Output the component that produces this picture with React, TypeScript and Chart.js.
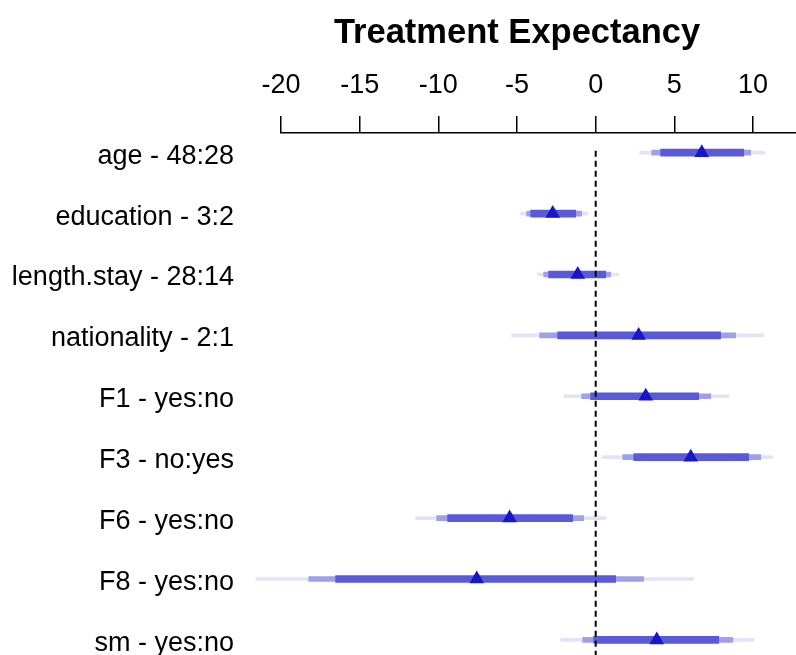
import React, { useEffect, useRef } from "react";
import { Chart, registerables } from "chart.js";

Chart.register(...registerables);

const categories = [
  "age - 48:28",
  "education - 3:2",
  "length.stay - 28:14",
  "nationality - 2:1",
  "F1 - yes:no",
  "F3 - no:yes",
  "F6 - yes:no",
  "F8 - yes:no",
  "sm - yes:no",
];
const estimate = [6.74, -2.73, -1.14, 2.73, 3.18, 6.04, -5.47, -7.56, 3.88];
const innerLow = [4.13, -4.13, -2.99, -2.42, -0.32, 2.42, -9.41, -16.53, -0.13];
const innerHigh = [9.41, -1.27, 0.64, 7.94, 6.55, 9.72, -1.46, 1.27, 7.82];
const midLow = [3.56, -4.39, -3.31, -3.56, -0.89, 1.72, -10.11, -18.24, -0.83];
const midHigh = [9.85, -0.89, 0.95, 8.9, 7.31, 10.49, -0.76, 3.05, 8.71];
const outerLow = [2.8, -4.77, -3.69, -5.34, -2.03, 0.44, -11.44, -21.6, -2.22];
const outerHigh = [10.74, -0.51, 1.46, 10.68, 8.45, 11.25, 0.64, 6.23, 10.04];
const xTicks = [-20, -15, -10, -5, 0, 5, 10];
const xMin = -20;
const xMax = 12.73;
const yMin = 0.677;
const yMax = 9.248;
const refValue = 0;
const titleText = "Treatment Expectancy";

const FONT = '"Liberation Sans", Arial, sans-serif';

const titlePlugin = {
  id: "customTitle",
  afterDraw(chart: any) {
    const ctx = chart.ctx;
    const xs = chart.scales.x;
    const cx = xs.getPixelForValue((xTicks[0] + xTicks[xTicks.length - 1]) / 2);
    ctx.save();
    ctx.font = `bold 34.5px ${FONT}`;
    ctx.fillStyle = "#000";
    ctx.textAlign = "center";
    ctx.textBaseline = "alphabetic";
    ctx.fillText(titleText, cx, 42.5);
    ctx.restore();
  },
};

export default function App() {
  const ref = useRef<HTMLCanvasElement | null>(null);

  useEffect(() => {
    if (!ref.current) return;
    Chart.defaults.font.family = FONT;
    const band = (lo: number[], hi: number[], color: string, thick: number, order: number) => ({
      type: "bar" as const,
      data: categories.map((_, i) => ({ x: [lo[i], hi[i]], y: i + 1 })),
      backgroundColor: color,
      borderWidth: 0,
      barThickness: thick,
      grouped: false,
      clip: false as any,
      order,
    });
    const chart = new Chart(ref.current, {
      type: "bar",
      data: {
        datasets: [
          {
            type: "line",
            data: [
              { x: refValue, y: 0.97 },
              { x: refValue, y: yMax + 1 },
            ],
            borderColor: "#000",
            borderWidth: 2,
            borderDash: [6, 4],
            pointRadius: 0,
            order: 0,
          } as any,
          {
            type: "line",
            data: categories.map((_, i) => ({ x: estimate[i], y: i + 1 })),
            showLine: false,
            pointStyle: "triangle",
            pointRadius: 8.5,
            pointBackgroundColor: "#1717c9",
            pointBorderWidth: 0,
            clip: false,
            order: 1,
          } as any,
          band(innerLow, innerHigh, "#5a5ad8", 7, 2) as any,
          band(midLow, midHigh, "#a0a0ea", 5, 3) as any,
          band(outerLow, outerHigh, "#e3e3f8", 3, 4) as any,
        ],
      },
      options: {
        indexAxis: "y",
        responsive: false,
        animation: false,
        devicePixelRatio: 1,
        layout: { autoPadding: false, padding: { top: 70, left: 0, right: 0, bottom: 0 } },
        plugins: { legend: { display: false }, tooltip: { enabled: false }, title: { display: false } },
        scales: {
          x: {
            type: "linear",
            position: "top",
            min: xMin,
            max: xMax,
            afterBuildTicks: (scale: any) => {
              scale.ticks = xTicks.map((v) => ({ value: v }));
            },
            afterFit: (scale: any) => {
              scale.height = 63;
              scale.paddingLeft = 0;
              scale.paddingRight = 0;
            },
            ticks: {
              color: "#000",
              font: { size: 27, family: FONT },
              padding: 14,
              maxRotation: 0,
              autoSkip: false,
            },
            grid: {
              display: true,
              drawOnChartArea: false,
              drawTicks: true,
              tickLength: 17,
              tickColor: "#000",
              tickWidth: 1.5,
              lineWidth: 1.5,
              color: "#000",
            },
            border: { display: true, color: "#000", width: 1.5 },
          },
          y: {
            type: "linear",
            reverse: true,
            min: yMin,
            max: yMax,
            offset: false,
            afterBuildTicks: (scale: any) => {
              scale.ticks = categories.map((_, i) => ({ value: i + 1 }));
            },
            afterFit: (scale: any) => {
              scale.width = 281;
              scale.paddingTop = 0;
              scale.paddingBottom = 0;
            },
            ticks: {
              color: "#000",
              font: { size: 27, family: FONT },
              padding: 47,
              labelOffset: 3.5,
              autoSkip: false,
              callback: (v: any) => {
                const idx = Math.round(Number(v)) - 1;
                return categories[idx] ?? "";
              },
            },
            grid: { display: false, drawTicks: false },
            border: { display: false },
          },
        },
      } as any,
      plugins: [titlePlugin],
    });
    return () => chart.destroy();
  }, []);

  return (
    <div style={{ position: "fixed", left: 0, top: 0, width: 796, height: 655, background: "#fff" }}>
      <canvas ref={ref} width={796} height={655} style={{ display: "block" }} />
    </div>
  );
}
